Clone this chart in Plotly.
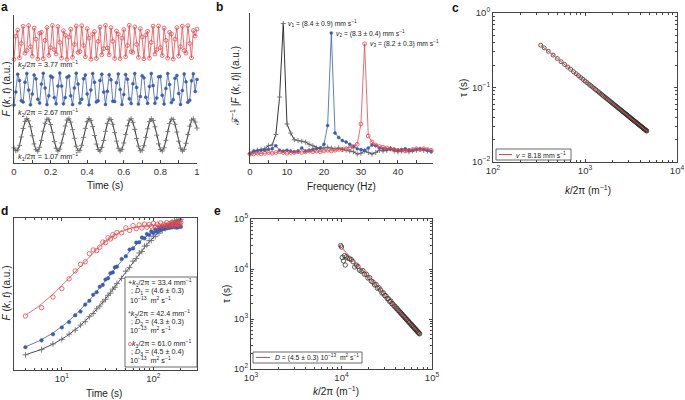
import math
import plotly.graph_objects as go

W, H = 685, 400
def px(x): return x / W
def py(y): return 1 - y / H

FONT = "Liberation Sans, Arial, sans-serif"
BLACK = "#1e1e1e"
GREY = "#707070"
BLUE = "#3a5dae"
RED = "#e8474a"
AX = "#444444"

# ---------------- panel a : F(k,t) time series ----------------
t_a = [0.00, 0.01, 0.02, 0.03, 0.04, 0.05, 0.06, 0.07, 0.08, 0.09,
       0.10, 0.11, 0.12, 0.13, 0.14, 0.15, 0.16, 0.17, 0.18, 0.19,
       0.20, 0.21, 0.22, 0.23, 0.24, 0.25, 0.26, 0.27, 0.28, 0.29,
       0.30, 0.31, 0.32, 0.33, 0.34, 0.35, 0.36, 0.37, 0.38, 0.39,
       0.40, 0.41, 0.42, 0.43, 0.44, 0.45, 0.46, 0.47, 0.48, 0.49,
       0.50, 0.51, 0.52, 0.53, 0.54, 0.55, 0.56, 0.57, 0.58, 0.59,
       0.60, 0.61, 0.62, 0.63, 0.64, 0.65, 0.66, 0.67, 0.68, 0.69,
       0.70, 0.71, 0.72, 0.73, 0.74, 0.75, 0.76, 0.77, 0.78, 0.79,
       0.80, 0.81, 0.82, 0.83, 0.84, 0.85, 0.86, 0.87, 0.88, 0.89,
       0.90, 0.91, 0.92, 0.93, 0.94, 0.95, 0.96, 0.97, 0.98, 0.99, 1.00]
black_a = [1.02, 0.83, 0.88, 1.19, 1.76, 2.33, 2.81, 3.00, 2.85, 2.45,
           1.84, 1.29, 0.90, 0.80, 1.06, 1.53, 2.15, 2.68, 2.96, 2.95,
           2.60, 2.07, 1.45, 1.00, 0.80, 0.94, 1.35, 1.95, 2.50, 2.90,
           2.99, 2.76, 2.25, 1.67, 1.13, 0.84, 0.85, 1.19, 1.73, 2.34,
           2.79, 3.00, 2.86, 2.46, 1.86, 1.28, 0.91, 0.80, 1.05, 1.52,
           2.14, 2.67, 2.97, 2.94, 2.62, 2.06, 1.48, 1.00, 0.81, 0.93,
           1.35, 1.92, 2.51, 2.89, 2.99, 2.75, 2.28, 1.66, 1.14, 0.83,
           0.86, 1.17, 1.73, 2.31, 2.80, 2.99, 2.87, 2.45, 1.88, 1.29,
           0.91, 0.81, 1.03, 1.53, 2.12, 2.66, 2.96, 2.95, 2.62, 2.09,
           1.47, 1.01, 0.80, 0.93, 1.33, 1.93, 2.49, 2.90, 2.98, 2.77, 2.36]
blue_a = [3.92, 4.80, 6.00, 5.58, 4.21, 4.13, 5.46, 6.05, 4.93, 3.93,
          4.67, 5.95, 5.69, 4.31, 4.05, 5.33, 6.07, 5.07, 3.95, 4.54,
          5.87, 5.79, 4.42, 4.00, 5.20, 6.08, 5.20, 4.00, 4.42, 5.79,
          5.87, 4.54, 3.95, 5.07, 6.07, 5.33, 4.05, 4.31, 5.69, 5.95,
          4.67, 3.93, 4.93, 6.05, 5.46, 4.13, 4.21, 5.58, 6.00, 4.80,
          3.96, 4.84, 5.97, 5.62, 4.18, 4.16, 5.42, 6.02, 4.97, 3.95,
          4.63, 5.98, 5.66, 4.34, 4.02, 5.36, 6.04, 5.10, 3.98, 4.50,
          5.90, 5.76, 4.45, 4.03, 5.17, 6.05, 5.23, 4.03, 4.39, 5.82,
          5.84, 4.57, 3.98, 5.04, 6.04, 5.30, 4.08, 4.28, 5.72, 5.92,
          4.70, 3.96, 4.90, 6.02, 5.49, 4.10, 4.24, 5.55, 6.03, 4.83, 5.65]
red_a = [7.00, 8.57, 8.99, 7.11, 8.08, 9.24, 7.42, 7.60, 9.29, 7.86,
         7.22, 9.12, 8.37, 7.02, 8.77, 8.83, 7.04, 8.29, 9.16, 7.26,
         7.80, 9.30, 7.66, 7.36, 9.22, 8.15, 7.08, 8.94, 8.64, 7.00,
         8.51, 9.04, 7.14, 8.01, 9.26, 7.47, 7.53, 9.28, 7.94, 7.18,
         9.08, 8.44, 7.01, 8.70, 8.88, 7.06, 8.22, 9.19, 7.31, 7.73,
         9.30, 7.78, 7.31, 9.15, 8.22, 7.06, 8.92, 8.70, 7.05, 8.44,
         9.02, 7.18, 7.94, 9.31, 7.53, 7.47, 9.20, 8.01, 7.14, 9.08,
         8.51, 7.04, 8.64, 8.90, 7.08, 8.15, 9.25, 7.36, 7.66, 9.26,
         7.80, 7.26, 9.12, 8.29, 7.08, 8.83, 8.72, 7.02, 8.37, 9.15,
         7.22, 7.86, 9.25, 7.60, 7.42, 9.28, 8.08, 7.11, 8.95, 8.57, 9.05]

# ---------------- panel b : spectra ----------------
freq_b = [0, 1, 2, 3, 4, 5, 6, 7, 8, 9, 10, 11, 12, 13, 14, 15, 16, 17, 18, 19,
          20, 21, 22, 23, 24, 25, 26, 27, 28, 29, 30, 31, 32, 33, 34, 35, 36, 37, 38, 39,
          40, 41, 42, 43, 44, 45, 46, 47, 48, 49]
black_b = [0.06, 0.075, 0.085, 0.09, 0.095, 0.115, 0.12, 0.19, 0.44, 0.93,
           0.26, 0.20, 0.155, 0.15, 0.145, 0.14, 0.125, 0.115, 0.10, 0.095,
           0.10, 0.105, 0.10, 0.095, 0.10, 0.09, 0.085, 0.08, 0.075, 0.06,
           0.065, 0.08, 0.07, 0.06, 0.07, 0.085, 0.08, 0.085, 0.095, 0.08,
           0.075, 0.08, 0.085, 0.075, 0.08, 0.085, 0.09, 0.085, 0.08, 0.08]
blue_b = [0.065, 0.08, 0.08, 0.085, 0.085, 0.09, 0.095, 0.115, 0.085, 0.08,
          0.085, 0.08, 0.075, 0.08, 0.10, 0.08, 0.085, 0.09, 0.095, 0.10,
          0.125, 0.25, 0.867, 0.20, 0.17, 0.15, 0.14, 0.125, 0.11, 0.095,
          0.09, 0.085, 0.10, 0.12, 0.115, 0.10, 0.095, 0.09, 0.095, 0.09,
          0.085, 0.09, 0.095, 0.085, 0.085, 0.09, 0.095, 0.09, 0.085, 0.075]
red_b = [0.06, 0.06, 0.065, 0.06, 0.065, 0.07, 0.065, 0.07, 0.075, 0.07,
         0.065, 0.07, 0.07, 0.075, 0.07, 0.075, 0.08, 0.075, 0.08, 0.075,
         0.08, 0.085, 0.08, 0.085, 0.09, 0.09, 0.095, 0.10, 0.11, 0.125,
         0.26, 0.795, 0.18, 0.14, 0.12, 0.11, 0.105, 0.10, 0.095, 0.09,
         0.085, 0.085, 0.08, 0.085, 0.09, 0.095, 0.09, 0.095, 0.09, 0.085]

# ---------------- panel c : tau vs k (ballistic) ----------------
k_c = [330, 360, 400, 450, 500, 550, 600, 650, 700, 750, 800, 850, 900, 950,
       1000, 1050, 1100, 1150, 1200, 1250, 1300, 1350, 1400, 1450, 1500, 1550,
       1600, 1650, 1700, 1750, 1800, 1850, 1900, 1950, 2000, 2050, 2100, 2150,
       2200, 2250, 2300, 2350, 2400, 2450, 2500, 2550, 2600, 2650, 2700, 2750,
       2800, 2850, 2900, 2950, 3000, 3050, 3100, 3150, 3200, 3250, 3300, 3350,
       3400, 3450, 3500, 3550, 3600, 3650, 3700, 3750, 3800, 3850, 3900, 3950,
       4000, 4050, 4100, 4150, 4200, 4250, 4300, 4350, 4400, 4450, 4500, 4550,
       4600, 4650, 4700]
tau_c = [0.370, 0.340, 0.306, 0.272, 0.245, 0.222, 0.204, 0.188, 0.175, 0.163,
         0.153, 0.144, 0.136, 0.129, 0.122, 0.1164, 0.111, 0.1063, 0.102, 0.0978,
         0.094, 0.0906, 0.0873, 0.0843, 0.0815, 0.0789, 0.0764, 0.0741, 0.0719,
         0.0699, 0.0679, 0.0661, 0.0643, 0.0627, 0.0611, 0.0596, 0.0582, 0.0569,
         0.0556, 0.0543, 0.0532, 0.0520, 0.0509, 0.0499, 0.0489, 0.0479, 0.0470,
         0.0461, 0.0453, 0.0445, 0.0437, 0.0429, 0.0422, 0.0414, 0.0408, 0.0401,
         0.0394, 0.0388, 0.0382, 0.0376, 0.0370, 0.0365, 0.0360, 0.0354, 0.0349,
         0.0344, 0.0340, 0.0335, 0.0330, 0.0326, 0.0322, 0.0318, 0.0313, 0.0309,
         0.0306, 0.0302, 0.0298, 0.0295, 0.0291, 0.0288, 0.0284, 0.0281, 0.0278,
         0.0275, 0.0272, 0.0269, 0.0266, 0.0263, 0.0260]
v_fit = 8.18e-3          # m/s
k_c_fit = [330, 4700]

# ---------------- panel d : diffusive F(k,t) ----------------
t_d = [4, 6, 8, 10, 12, 14, 16, 18, 20, 22, 24, 26, 28, 30, 32, 34, 36, 38, 40,
       45, 50, 55, 60, 65, 70, 75, 80, 85, 90, 95, 100, 105, 110, 115, 120, 125,
       130, 135, 140, 145, 150, 155, 160, 165, 170, 175, 180, 185, 190, 195, 200]
black_d = [0.100, 0.134, 0.172, 0.201, 0.236, 0.262, 0.295, 0.318, 0.351, 0.372,
           0.402, 0.420, 0.448, 0.465, 0.491, 0.506, 0.532, 0.544, 0.569, 0.603,
           0.650, 0.674, 0.716, 0.733, 0.770, 0.780, 0.815, 0.820, 0.851, 0.852,
           0.880, 0.878, 0.905, 0.900, 0.925, 0.918, 0.940, 0.930, 0.952, 0.944,
           0.962, 0.955, 0.972, 0.962, 0.980, 0.968, 0.985, 0.975, 0.990, 0.978, 0.992]
blue_d = [0.150, 0.195, 0.235, 0.280, 0.315, 0.360, 0.385, 0.430, 0.455, 0.495,
          0.512, 0.548, 0.560, 0.595, 0.604, 0.637, 0.642, 0.675, 0.680, 0.730,
          0.748, 0.792, 0.800, 0.838, 0.840, 0.872, 0.866, 0.895, 0.888, 0.912,
          0.902, 0.925, 0.912, 0.935, 0.920, 0.940, 0.928, 0.945, 0.932, 0.948,
          0.935, 0.950, 0.938, 0.952, 0.940, 0.955, 0.936, 0.952, 0.940, 0.950, 0.942]
red_d = [0.355, 0.410, 0.480, 0.535, 0.600, 0.652, 0.695, 0.712, 0.765, 0.790,
         0.785, 0.808, 0.842, 0.838, 0.870, 0.862, 0.890, 0.880, 0.905, 0.902,
         0.935, 0.918, 0.950, 0.930, 0.955, 0.935, 0.960, 0.940, 0.958, 0.945,
         0.965, 0.942, 0.960, 0.950, 0.968, 0.945, 0.958, 0.952, 0.970, 0.948,
         0.962, 0.955, 0.972, 0.950, 0.965, 0.958, 0.975, 0.955, 0.968, 0.960, 0.972]
# fitted parameters  F = a + b (1 - exp(-t / tau))
fit_black_d = (0.025, 0.98, 50.0)
fit_blue_d = (0.05, 0.90, 33.0)
fit_red_d = (0.18, 0.77, 15.0)

# ---------------- panel e : tau vs k (diffusive) ----------------
k_e = [9800, 10000, 10200, 10500, 10800, 11000, 11300, 11800, 12300, 12800,
       13400, 14000, 14600, 15200, 15800, 16500, 17200, 18000, 18800, 19600,
       20500, 21400, 22300, 23200, 24100, 25000, 26000, 27000, 28000, 29000,
       30000, 31000, 32000, 33000, 34000, 35000, 36000, 37000, 38000, 39000,
       40000, 41000, 42000, 43000, 44000, 45000, 46000, 47000, 48000, 49000,
       50000, 51000, 52000, 53000, 54000, 55000, 56000, 57000, 58000, 59000,
       60000, 61000, 62000, 63000, 64000, 65000, 66000, 67000, 68000, 69000,
       70000, 71000, 72000, 73000]
tau_e = [29500, 27500, 17000, 14500, 18500, 12000, 17500, 16500, 16000, 15500,
         14000, 11000, 12000, 11200, 9500, 9000, 9300, 7800, 7900, 6600,
         6700, 5700, 5500, 4800, 4900, 4100, 4200, 3800, 3300, 3350,
         2950, 2900, 2550, 2550, 2250, 2280, 2020, 2010, 1820, 1800,
         1650, 1640, 1500, 1480, 1370, 1350, 1250, 1240, 1150, 1140,
         1060, 1050, 980, 975, 910, 905, 845, 840, 790, 785,
         735, 735, 690, 690, 645, 645, 610, 605, 575, 570,
         545, 540, 515, 505]
e_fit_coef = 2.7e12      # tau = coef / (k/2pi)^2 as drawn
k_e_fit = [9500, 74000]

fig = go.Figure()

def sc(x, y, ax, **kw):
    fig.add_trace(go.Scatter(x=x, y=y, xaxis="x" + ax, yaxis="y" + ax,
                             showlegend=False, hoverinfo="skip", **kw))

mk_black = dict(symbol="cross-thin", size=3.6, color=GREY, line=dict(color=GREY, width=0.9))
mk_blue = dict(symbol="circle", size=3.0, color=BLUE, line=dict(color=BLUE, width=0.5))
mk_red = dict(symbol="circle-open", size=3.8, color=RED, line=dict(color=RED, width=0.8))

# a
sc(t_a, black_a, "", mode="lines+markers", line=dict(color=BLACK, width=0.9), marker=mk_black, cliponaxis=False)
sc(t_a, blue_a, "", mode="lines+markers", line=dict(color=BLUE, width=0.8), marker=mk_blue, cliponaxis=False)
sc(t_a, red_a, "", mode="lines+markers", line=dict(color=RED, width=0.8), marker=mk_red, cliponaxis=False)
# b
sc(freq_b, black_b, "2", mode="lines+markers", line=dict(color=BLACK, width=0.9), marker=mk_black, cliponaxis=False)
sc(freq_b, blue_b, "2", mode="lines+markers", line=dict(color=BLUE, width=0.8), marker=mk_blue, cliponaxis=False)
sc(freq_b, red_b, "2", mode="lines+markers", line=dict(color=RED, width=0.8), marker=mk_red, cliponaxis=False)
# c
sc(k_c, tau_c, "3", mode="markers",
   marker=dict(symbol="circle-open", size=4, color="#333", line=dict(color="#333", width=0.8)))
sc(k_c_fit, [1 / (v_fit * k) for k in k_c_fit], "3", mode="lines", line=dict(color=RED, width=1))
# d
t_fit = [4 * (50 ** (i / 150)) for i in range(151)]
for (data, fit, col, mk) in [(black_d, fit_black_d, BLACK, mk_black),
                             (blue_d, fit_blue_d, BLUE, mk_blue),
                             (red_d, fit_red_d, RED, mk_red)]:
    a, b, tau = fit
    sc(t_fit, [a + b * (1 - math.exp(-t / tau)) for t in t_fit], "4", mode="lines",
       line=dict(color=col, width=0.8))
    m = dict(mk)
    m["size"] = mk["size"] + 0.6
    sc(t_d, data, "4", mode="markers", marker=m)
# e
sc(k_e, tau_e, "5", mode="markers",
   marker=dict(symbol="circle-open", size=4.4, color="#333", line=dict(color="#333", width=0.8)))
sc(k_e_fit, [e_fit_coef / k ** 2 for k in k_e_fit], "5", mode="lines", line=dict(color=RED, width=1))

tickfont = dict(family=FONT, size=9.5, color="#333")
common = dict(showgrid=False, zeroline=False, linecolor=AX, linewidth=1, tickfont=tickfont,
              tickcolor=AX, automargin=False)

layout = dict(
    width=W, height=H, margin=dict(l=0, r=0, t=0, b=0),
    paper_bgcolor="white", plot_bgcolor="white", template="none",
    font=dict(family=FONT, size=9, color="#222"),
    xaxis=dict(domain=[px(14), px(197)], range=[0, 1], anchor="y", showline=True,
               ticks="inside", ticklen=3, tickvals=[0, 0.2, 0.4, 0.6, 0.8, 1],
               ticktext=["0", "0.2", "0.4", "0.6", "0.8", "1"],
               minor=dict(ticks="inside", ticklen=3, dtick=0.1, tick0=0, tickcolor=AX), **common),
    yaxis=dict(domain=[py(163), py(15)], range=[0, 10], anchor="x", showline=True,
               showticklabels=False, ticks="", **common),
    xaxis2=dict(domain=[px(250), px(433)], range=[0, 49.5], anchor="y2", showline=True,
                ticks="inside", ticklen=3, tickvals=[0, 10, 20, 30, 40],
                minor=dict(ticks="inside", ticklen=3, dtick=5, tick0=0, tickcolor=AX), **common),
    yaxis2=dict(domain=[py(163), py(13)], range=[0, 1], anchor="x2", showline=True,
                showticklabels=False, ticks="", **common),
    xaxis3=dict(domain=[px(493), px(677)], type="log", range=[2, 4], anchor="y3", showline=True,
                mirror="allticks", ticks="inside", ticklen=3,
                tickvals=[100, 1000, 10000],
                ticktext=["10<sup>2</sup>", "10<sup>3</sup>", "10<sup>4</sup>"],
                minor=dict(ticks="inside", ticklen=2, tickcolor=AX,
                           tickvals=[200, 300, 400, 500, 600, 700, 800, 900,
                                     2000, 3000, 4000, 5000, 6000, 7000, 8000, 9000]), **common),
    yaxis3=dict(domain=[py(162), py(13)], type="log", range=[-2, 0], anchor="x3", showline=True,
                mirror="allticks", ticks="inside", ticklen=3,
                tickvals=[0.01, 0.1, 1],
                ticktext=["10<sup>−2</sup>", "10<sup>−1</sup>", "10<sup>0</sup>"],
                minor=dict(ticks="inside", ticklen=2, tickcolor=AX,
                           tickvals=[0.02, 0.03, 0.04, 0.05, 0.06, 0.07, 0.08, 0.09,
                                     0.2, 0.3, 0.4, 0.5, 0.6, 0.7, 0.8, 0.9]), **common),
    xaxis4=dict(domain=[px(14), px(197)], type="log", range=[math.log10(3), math.log10(300)],
                anchor="y4", showline=True, mirror="allticks", ticks="inside", ticklen=3,
                tickvals=[10, 100], ticktext=["10<sup>1</sup>", "10<sup>2</sup>"],
                minor=dict(ticks="inside", ticklen=2, tickcolor=AX,
                           tickvals=[3, 4, 5, 6, 7, 8, 9, 20, 30, 40, 50, 60, 70, 80, 90, 200, 300]),
                **common),
    yaxis4=dict(domain=[py(370), py(218)], range=[0, 1], anchor="x4", showline=True, mirror=True,
                showticklabels=False, ticks="", **common),
    xaxis5=dict(domain=[px(251), px(432)], type="log", range=[3, 5], anchor="y5", showline=True,
                mirror="allticks", ticks="inside", ticklen=3,
                tickvals=[1000, 10000, 100000],
                ticktext=["10<sup>3</sup>", "10<sup>4</sup>", "10<sup>5</sup>"],
                minor=dict(ticks="inside", ticklen=2, tickcolor=AX,
                           tickvals=[2000, 3000, 4000, 5000, 6000, 7000, 8000, 9000,
                                     20000, 30000, 40000, 50000, 60000, 70000, 80000, 90000]),
                **common),
    yaxis5=dict(domain=[py(369), py(219)], type="log", range=[2, 5], anchor="x5", showline=True,
                mirror="allticks", ticks="inside", ticklen=3,
                tickvals=[100, 1000, 10000, 100000],
                ticktext=["10<sup>2</sup>", "10<sup>3</sup>", "10<sup>4</sup>", "10<sup>5</sup>"],
                minor=dict(ticks="inside", ticklen=2, tickcolor=AX,
                           tickvals=[200, 300, 400, 500, 600, 700, 800, 900,
                                     2000, 3000, 4000, 5000, 6000, 7000, 8000, 9000,
                                     20000, 30000, 40000, 50000, 60000, 70000, 80000, 90000]),
                **common),
)
fig.update_layout(**layout)

ann = []
def txt(x, y, s, size=9, xa="center", ya="middle", angle=0, color="#222"):
    ann.append(dict(x=px(x), y=py(y), xref="paper", yref="paper", text=s, showarrow=False,
                    xanchor=xa, yanchor=ya, textangle=angle,
                    font=dict(family=FONT, size=size, color=color)))

# panel letters
for (x, y, s) in [(4.5, 7, "a"), (219, 7, "b"), (455.5, 8, "c"), (4.5, 211, "d"), (217.5, 211, "e")]:
    txt(x, y, "<b>%s</b>" % s, size=12, color="#111")

# axis titles
txt(105, 185, "Time (s)", size=10)
txt(341, 186, "Frequency (Hz)", size=10)
txt(588, 190, "<i>k</i>/2π (m<sup>−1</sup>)", size=10)
txt(104, 393, "Time (s)", size=10)
txt(336, 391, "<i>k</i>/2π (m<sup>−1</sup>)", size=10)
txt(5.5, 89, "<i>F</i> (<i>k</i>, <i>t</i>) (a.u.)", size=10, angle=-90)
txt(235, 86, "ℱ<sup>−1</sup> |<i>F</i> (<i>k</i>, <i>t</i>)| (a.u.)", size=10, angle=-90)
txt(464, 88, "τ (s)", size=10, angle=-90)
txt(5.5, 293, "<i>F</i> (<i>k</i>, <i>t</i>) (a.u.)", size=10, angle=-90)
txt(226, 294, "τ (s)", size=10, angle=-90)

# panel a labels
txt(16, 65, "<i>k</i><sub>3</sub>/2π = 3.77 mm<sup>−1</sup>", size=7.3, xa="left")
txt(16, 112.5, "<i>k</i><sub>2</sub>/2π = 2.67 mm<sup>−1</sup>", size=7.3, xa="left")
txt(16, 156, "<i>k</i><sub>1</sub>/2π = 1.07 mm<sup>−1</sup>", size=7.3, xa="left")

# panel b labels
txt(286, 23, "<i>v</i><sub>1</sub> = (8.4 ± 0.9) mm s<sup>−1</sup>", size=6.8, xa="left")
txt(334, 33.5, "<i>v</i><sub>2</sub> = (8.3 ± 0.4) mm s<sup>−1</sup>", size=6.8, xa="left")
txt(368, 43.5, "<i>v</i><sub>3</sub> = (8.2 ± 0.3) mm s<sup>−1</sup>", size=6.8, xa="left")

# panel c legend
txt(514, 154.5, "<i>v</i> = 8.18 mm s<sup>−1</sup>", size=7, xa="left")
# panel e legend
txt(273, 357.5, "<i>D</i> = (4.5 ± 0.3) 10<sup>−13</sup>  m<sup>2</sup> s<sup>−1</sup>", size=6.8, xa="left")

# panel d legend
leg_d = [
    (282, 126, "<span style='color:%s'>+</span><i>k</i><sub>1</sub>/2π = 33.4 mm<sup>−1</sup>" % BLACK),
    (291, 129, "; <i>D</i><sub>1</sub> = (4.6 ± 0.3)"),
    (299.5, 128, "10<sup>−13</sup>  m<sup>2</sup> s<sup>−1</sup>"),
    (313, 126, "<span style='color:%s'>*</span><i>k</i><sub>2</sub>/2π = 42.4 mm<sup>−1</sup>" % BLUE),
    (321.5, 129, "; <i>D</i><sub>2</sub> = (4.3 ± 0.3)"),
    (330, 128, "10<sup>−13</sup>  m<sup>2</sup> s<sup>−1</sup>"),
    (343, 126, "<span style='color:%s'>o</span><i>k</i><sub>3</sub>/2π = 61.0 mm<sup>−1</sup>" % RED),
    (351.5, 129, "; <i>D</i><sub>3</sub> = (4.5 ± 0.4)"),
    (360, 128, "10<sup>−13</sup>  m<sup>2</sup> s<sup>−1</sup>"),
]
for (y, x, s) in leg_d:
    txt(x, y, s, size=7.2, xa="left")

shapes = [
    dict(type="rect", xref="paper", yref="paper", x0=px(496), x1=px(571), y0=py(160), y1=py(149),
         line=dict(color=AX, width=0.8), fillcolor="white", layer="above"),
    dict(type="line", xref="paper", yref="paper", x0=px(499), x1=px(512), y0=py(154.5), y1=py(154.5),
         line=dict(color=RED, width=1)),
    dict(type="rect", xref="paper", yref="paper", x0=px(253), x1=px(362), y0=py(363), y1=py(352),
         line=dict(color=AX, width=0.8), fillcolor="white", layer="above"),
    dict(type="line", xref="paper", yref="paper", x0=px(256), x1=px(270), y0=py(357.5), y1=py(357.5),
         line=dict(color=RED, width=1)),
    dict(type="rect", xref="paper", yref="paper", x0=px(125), x1=px(197), y0=py(367), y1=py(277),
         line=dict(color=AX, width=0.8), fillcolor="white", layer="above"),
]
fig.update_layout(annotations=ann, shapes=shapes)

fig.write_html("out.html", config={"displayModeBar": False, "staticPlot": True},
               post_script="document.body.style.margin='0';document.body.style.overflow='hidden';")
